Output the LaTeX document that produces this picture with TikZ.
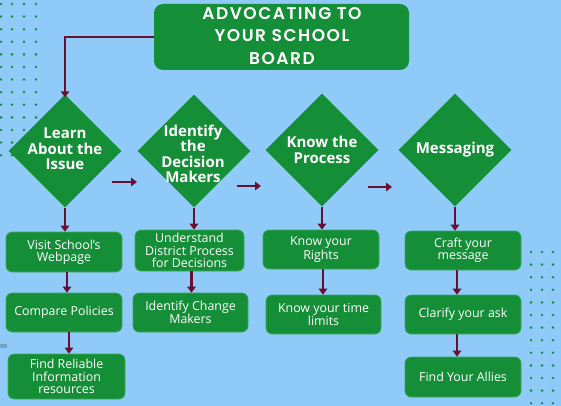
\documentclass[tikz,border=0pt]{standalone}
\usepackage{fontspec}
\setmainfont{Open Sans}
\newfontfamily\titlefont[LetterSpace=9]{Poppins SemiBold}
\usetikzlibrary{shapes.geometric,arrows.meta}
\definecolor{skyback}{RGB}{144,202,249}
\definecolor{boardgreen}{RGB}{21,143,55}
\definecolor{edgegreen}{RGB}{60,170,90}
\definecolor{maroon}{RGB}{106,15,52}
\tikzset{
  stepdiamond/.style={diamond,fill=boardgreen,inner sep=0pt,minimum width=113pt,minimum height=113pt,aspect=1},
  diamondtext/.style={text=white,align=center,font=\fontsize{15}{15.5}\selectfont\bfseries},
  taskbox/.style={rounded corners=6pt,fill=boardgreen,draw=edgegreen,line width=0.6pt,text=white,align=center,
    font=\fontsize{12.4}{12.2}\selectfont,inner sep=0pt},
  flow/.style={draw=maroon,line width=2.4pt,-{Triangle[width=8.5pt,length=6pt]}},
  dotmark/.style={fill=boardgreen,draw=none}
}
\begin{document}
\begin{tikzpicture}[x=1pt,y=-1pt]
\useasboundingbox (0,0) rectangle (561,406);
% objects at depth 100:
\path[fill=skyback] (0,0) rectangle (561,406);
\path[fill=black!20!skyback] (0,344) rectangle (7,348);
\foreach \row in {0,...,12} {
  \foreach \col in {1,12,24,36} {
    \path[dotmark] (\col,4+12.6*\row) circle (1.4);
  }
  \foreach \col in {531,542,553} {
    \path[dotmark] (\col,252+12.6*\row) circle (1.4);
  }
}
% objects at depth 50:
\node[rounded corners=9pt,fill=boardgreen,minimum width=255pt,minimum height=66pt,inner sep=0pt] (title) at (281.5,37) {};
\node[text=white,align=center,font=\titlefont\fontsize{17}{22.5}\selectfont] (titletext) at (282,36) {ADVOCATING TO\\YOUR SCHOOL\\BOARD};
\node[stepdiamond] (d1) at (65,151) {};
\node[stepdiamond] (d2) at (194,151) {};
\node[stepdiamond] (d3) at (322,150) {};
\node[stepdiamond] (d4) at (455,150) {};
\node[diamondtext] (d1t) at (65,149) {Learn\\About the\\Issue};
\node[diamondtext] (d2t) at (193,154) {Identify\\the\\Decision\\Makers};
\node[diamondtext] (d3t) at (322,150) {Know the\\Process};
\node[diamondtext] (d4t) at (455,150) {Messaging};
% boxes below each step:
\node[taskbox,minimum width=116pt,minimum height=40pt] (b11) at (64,252) {Visit School's\\Webpage};
\node[taskbox,minimum width=116pt,minimum height=39pt] (b12) at (64,312.5) {Compare Policies};
\node[taskbox,minimum width=117pt,minimum height=45pt] (b13) at (66.5,376.5) {Find Reliable\\Information\\resources};
\node[taskbox,minimum width=109pt,minimum height=41pt] (b21) at (189.5,250.5) {Understand\\District Process\\for Decisions};
\node[taskbox,minimum width=115pt,minimum height=39pt] (b22) at (190.5,312.5) {Identify Change\\Makers};
\node[taskbox,minimum width=116pt,minimum height=39pt] (b31) at (321,249.5) {Know your\\Rights};
\node[taskbox,minimum width=115pt,minimum height=39pt] (b32) at (323.5,314.5) {Know your time\\limits};
\node[taskbox,minimum width=116pt,minimum height=39pt] (b41) at (463,250.5) {Craft your\\message};
\node[taskbox,minimum width=116pt,minimum height=39pt] (b42) at (463,314.5) {Clarify your ask};
\node[taskbox,minimum width=116pt,minimum height=40pt] (b43) at (463,377) {Find Your Allies};
% connectors:
\coordinate (a1s) at (112,182); \coordinate (a1e) at (137,182);
\coordinate (a2s) at (237,186); \coordinate (a2e) at (261,186);
\coordinate (a3s) at (368,187); \coordinate (a3e) at (392,187);
\draw[flow] (title.west) -| ([yshift=-3pt]d1.north);
\draw[flow] (a1s) -- (a1e);
\draw[flow] (a2s) -- (a2e);
\draw[flow] (a3s) -- (a3e);
\draw[flow] (d1.south) -- (d1.south |- b11.north);
\draw[flow] (d2.south) -- (d2.south |- b21.north);
\draw[flow] (d3.south) -- (d3.south |- b31.north);
\draw[flow] (d4.south) -- (d4.south |- b41.north);
\draw[flow] ([xshift=3pt]b11.south) -- ([xshift=3pt]b11.south |- b12.north);
\draw[flow] ([xshift=5pt]b12.south) -- ([xshift=5pt]b12.south |- b13.north);
\draw[flow] ([xshift=2pt]b21.south) -- ([xshift=2pt]b21.south |- b22.north);
\draw[flow] ([xshift=2pt]b31.south) -- ([xshift=2pt]b31.south |- b32.north);
\draw[flow] ([xshift=-6pt]b41.south) -- ([xshift=-6pt]b41.south |- b42.north);
\draw[flow] ([xshift=-6pt]b42.south) -- ([xshift=-6pt]b42.south |- b43.north);
\end{tikzpicture}
\end{document}
